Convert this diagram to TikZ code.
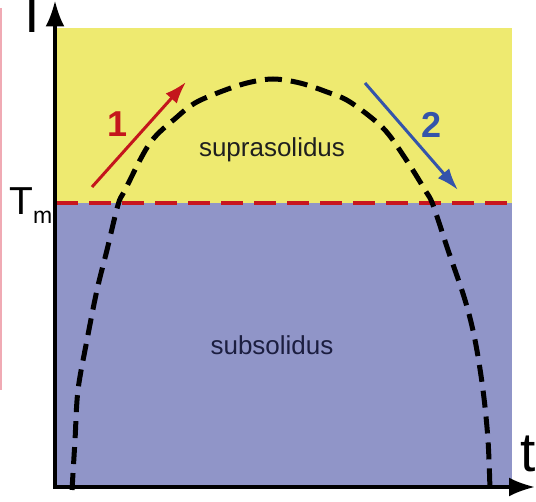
\documentclass[tikz,border=0pt]{standalone}
\usepackage{fontspec}
\setmainfont{Liberation Sans}
\usetikzlibrary{arrows.meta}
\definecolor{yel}{RGB}{238,234,112}
\definecolor{lav}{RGB}{144,149,200}
\definecolor{tmred}{RGB}{200,22,30}
\definecolor{arrred}{RGB}{196,22,28}
\definecolor{arrblue}{RGB}{52,84,170}
\definecolor{subtext}{RGB}{28,30,64}
\definecolor{edgepink}{RGB}{240,170,180}
\begin{document}
\begin{tikzpicture}[x=1pt,y=-1pt,
  axisline/.style={line width=3.5pt,-{Latex[length=26pt,width=19pt]}},
  procarrow/.style={line width=3pt,-{Latex[length=22pt,width=15pt]}},
  tmline/.style={tmred,line width=4pt,dash pattern=on 22pt off 11pt},
  solidus/.style={black,line width=5pt,dash pattern=on 17pt off 9pt},
  regiontext/.style={font=\fontsize{26}{30}\selectfont,anchor=base},
  numlabel/.style={font=\bfseries\fontsize{36}{40}\selectfont},
  axislabel/.style={font=\fontsize{55}{60}\selectfont,anchor=base west,inner sep=0pt}]
\useasboundingbox (0,0) rectangle (536,502);
% faint edge line
\draw[edgepink,line width=1.5pt] (0.75,8) -- (0.75,390);
% regions
\fill[yel] (55,28) rectangle (512,203);
\fill[lav] (55,203) rectangle (512,487);
% Tm line
\coordinate (tmL) at (56,203);
\coordinate (tmR) at (512,203);
\draw[tmline] (tmL) -- (tmR);
% solidus curve
\draw[solidus] plot[smooth,tension=0.55] coordinates {
 (72,490) (75,440) (78,390) (87,340) (97,290) (107,250) (118,205) (125,190)
 (150,143) (177,117) (195,103) (220,92) (247,83) (273,79) (300,83) (327,92)
 (350,102) (383,128) (405,158) (425,190) (433,205) (448,250) (465,300)
 (475,340) (483,390) (488,440) (490,490)};
% axes
\coordinate (O) at (55,487);
\coordinate (ytip) at (55,0.5);
\coordinate (xtip) at (535,487);
\draw[axisline] (55,489) -- (ytip);
\draw[axisline] (53.25,487) -- (xtip);
% process arrows
\coordinate (r1) at (92,187);
\coordinate (r2) at (186,82);
\coordinate (b1) at (365,83);
\coordinate (b2) at (458,190);
\draw[procarrow,arrred] (r1) -- (r2);
\draw[procarrow,arrblue] (b1) -- (b2);
\node[numlabel,text=arrred] (n1) at (118,124) {1};
\node[numlabel,text=arrblue] (n2) at (432,125) {2};
% region labels
\node[regiontext,text=black!88] (sup) at (272,157) {suprasolidus};
\node[regiontext,text=subtext] (sub) at (272,355) {subsolidus};
% axis labels
\node[axislabel] (Tlab) at (15,33) {T};
\node[axislabel] (tlab) at (520,472) {t};
\node[anchor=base west,inner sep=0pt] (Tm) at (9,215)
  {\fontsize{39}{42}\selectfont T\raisebox{-9pt}{\fontsize{23}{26}\selectfont m}};
\end{tikzpicture}
\end{document}
